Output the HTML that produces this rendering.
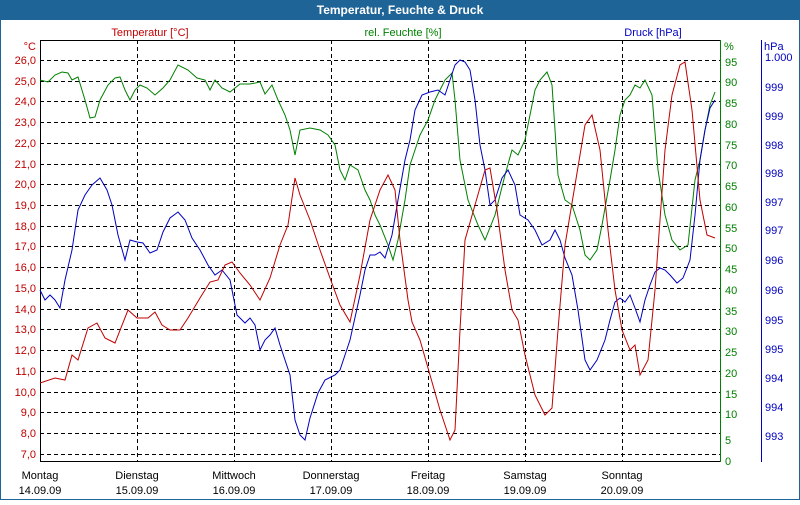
<!DOCTYPE html><html><head><style>body{margin:0}svg text{font-family:"Liberation Sans",sans-serif;font-size:11px}</style></head><body>
<svg width="800" height="500" xmlns="http://www.w3.org/2000/svg">
<rect x="0" y="0" width="800" height="500" fill="#fff"/>
<rect x="0.5" y="0.5" width="799" height="499" fill="none" stroke="#1e6496"/>
<rect x="0" y="0" width="800" height="20" fill="#1e6496"/>
<text x="400" y="14" fill="#fff" text-anchor="middle" font-weight="bold" style="font-size:12px">Temperatur, Feuchte &amp; Druck</text>
<text x="150" y="36" fill="#c00000" text-anchor="middle">Temperatur [°C]</text>
<text x="403" y="36" fill="#008000" text-anchor="middle">rel. Feuchte [%]</text>
<text x="653" y="36" fill="#0000c0" text-anchor="middle">Druck [hPa]</text>
<text x="36" y="50" fill="#c00000" text-anchor="end">°C</text>
<text x="724" y="50" fill="#008000">%</text>
<text x="764" y="50" fill="#0000c0">hPa</text>
<g stroke="#000" stroke-dasharray="4,3" stroke-width="1">
<path d="M40 60.5H720M40 81.5H720M40 101.5H720M40 122.5H720M40 143.5H720M40 164.5H720M40 184.5H720M40 205.5H720M40 226.5H720M40 246.5H720M40 267.5H720M40 288.5H720M40 309.5H720M40 329.5H720M40 350.5H720M40 371.5H720M40 392.5H720M40 412.5H720M40 433.5H720M40 454.5H720"/>
<path d="M137.5 40V461M234.5 40V461M331.5 40V461M428.5 40V461M525.5 40V461M622.5 40V461"/>
</g>
<path d="M40 40.5H720M40.5 40V462M40 461.5H720" stroke="#000" fill="none"/>
<path d="M720.5 40V462" stroke="#008000"/>
<path d="M761.5 40V462" stroke="#0000c0"/>
<g fill="#c00000" text-anchor="end">
<text x="36" y="64">26,0</text><text x="36" y="85">25,0</text><text x="36" y="105">24,0</text><text x="36" y="126">23,0</text><text x="36" y="147">22,0</text><text x="36" y="168">21,0</text><text x="36" y="188">20,0</text><text x="36" y="209">19,0</text><text x="36" y="230">18,0</text><text x="36" y="250">17,0</text><text x="36" y="271">16,0</text><text x="36" y="292">15,0</text><text x="36" y="313">14,0</text><text x="36" y="333">13,0</text><text x="36" y="354">12,0</text><text x="36" y="375">11,0</text><text x="36" y="396">10,0</text><text x="36" y="416">9,0</text><text x="36" y="437">8,0</text><text x="36" y="458">7,0</text>
</g>
<g fill="#008000">
<text x="725" y="66">95</text><text x="725" y="86">90</text><text x="725" y="107">85</text><text x="725" y="128">80</text><text x="725" y="149">75</text><text x="725" y="169">70</text><text x="725" y="190">65</text><text x="725" y="211">60</text><text x="725" y="232">55</text><text x="725" y="252">50</text><text x="725" y="273">45</text><text x="725" y="294">40</text><text x="725" y="315">35</text><text x="725" y="335">30</text><text x="725" y="356">25</text><text x="725" y="377">20</text><text x="725" y="398">15</text><text x="725" y="418">10</text><text x="725" y="444">5</text><text x="725" y="465">0</text>
</g>
<g fill="#0000c0">
<text x="765" y="61">1.000</text><text x="765" y="91">999</text><text x="765" y="120">999</text><text x="765" y="149">998</text><text x="765" y="177">998</text><text x="765" y="206">997</text><text x="765" y="234">997</text><text x="765" y="264">996</text><text x="765" y="294">996</text><text x="765" y="324">995</text><text x="765" y="353">995</text><text x="765" y="382">994</text><text x="765" y="411">994</text><text x="765" y="440">993</text>
</g>
<g fill="#000" text-anchor="middle">
<text x="40" y="479">Montag</text><text x="40" y="494">14.09.09</text>
<text x="137" y="479">Dienstag</text><text x="137" y="494">15.09.09</text>
<text x="234" y="479">Mittwoch</text><text x="234" y="494">16.09.09</text>
<text x="331" y="479">Donnerstag</text><text x="331" y="494">17.09.09</text>
<text x="428" y="479">Freitag</text><text x="428" y="494">18.09.09</text>
<text x="525" y="479">Samstag</text><text x="525" y="494">19.09.09</text>
<text x="622" y="479">Sonntag</text><text x="622" y="494">20.09.09</text>
</g>
<polyline fill="none" stroke="#008000" points="40,80 48,82 55,75 62,72 68,73 72,80 78,77 85,100 90,118 95,117 100,100 108,85 115,78 120,77 125,90 130,100 135,90 140,85 147,88 155,95 163,88 170,80 178,65 188,70 197,78 205,80 210,90 215,80 222,88 230,92 240,84 250,84 260,82 265,94 272,85 278,100 285,115 290,130 295,155 300,130 310,128 320,130 328,135 335,145 340,170 345,180 350,165 358,170 365,190 370,200 375,215 380,225 388,245 393,260 398,240 405,200 410,165 415,150 420,135 428,120 435,100 445,80 452,73 455,100 460,160 468,200 478,225 485,240 495,215 505,175 512,150 518,155 525,140 530,115 535,90 540,80 547,72 552,85 558,175 565,200 572,205 580,230 585,255 590,260 597,250 602,225 610,180 615,150 620,115 625,100 630,95 635,85 640,88 645,80 652,95 658,170 665,215 672,240 680,250 688,245 695,180 700,160 705,130 710,105 715,92"/>
<polyline fill="none" stroke="#0000c0" points="40,290 45,300 50,295 55,300 60,308 65,280 72,250 78,210 85,195 92,185 100,178 107,190 112,205 118,235 125,260 130,240 137,242 143,243 150,253 157,250 163,232 170,218 178,212 185,220 192,238 200,250 208,265 215,275 222,270 230,280 237,315 245,323 250,318 255,325 260,350 265,340 270,335 275,328 280,345 290,375 295,420 300,435 305,440 310,418 318,393 325,380 335,375 340,370 350,340 360,295 365,270 370,255 375,255 380,252 385,258 392,235 398,200 405,160 410,140 415,110 422,95 430,92 438,90 445,95 450,80 455,65 460,60 465,62 470,70 475,100 480,145 485,170 490,205 495,200 502,178 508,170 515,185 520,215 528,220 535,230 542,245 550,240 555,230 560,240 565,258 572,275 578,310 585,360 590,370 597,360 605,340 610,320 615,302 620,298 625,302 630,295 635,308 640,322 645,300 650,285 655,272 660,268 665,270 670,275 677,283 683,278 690,260 695,215 700,160 705,130 710,108 715,100"/>
<polyline fill="none" stroke="#c00000" points="40,383 55,378 65,380 72,355 78,360 88,328 97,323 105,338 115,343 128,310 137,318 148,318 155,312 162,325 170,330 180,330 188,318 200,298 210,282 218,280 225,265 232,262 240,273 250,285 260,300 270,278 280,245 288,225 295,178 300,195 310,220 320,250 330,278 340,305 350,322 360,275 370,220 380,190 388,175 395,190 400,240 408,300 412,322 420,340 430,375 440,410 450,440 455,430 460,330 465,240 475,205 485,170 490,168 497,210 505,270 512,310 518,320 525,355 535,395 545,415 552,408 558,330 565,245 575,185 585,125 592,115 600,150 608,230 615,290 622,330 630,350 635,345 640,375 648,360 655,290 665,150 672,95 680,65 685,62 692,110 700,200 707,235 715,238"/>
</svg></body></html>
